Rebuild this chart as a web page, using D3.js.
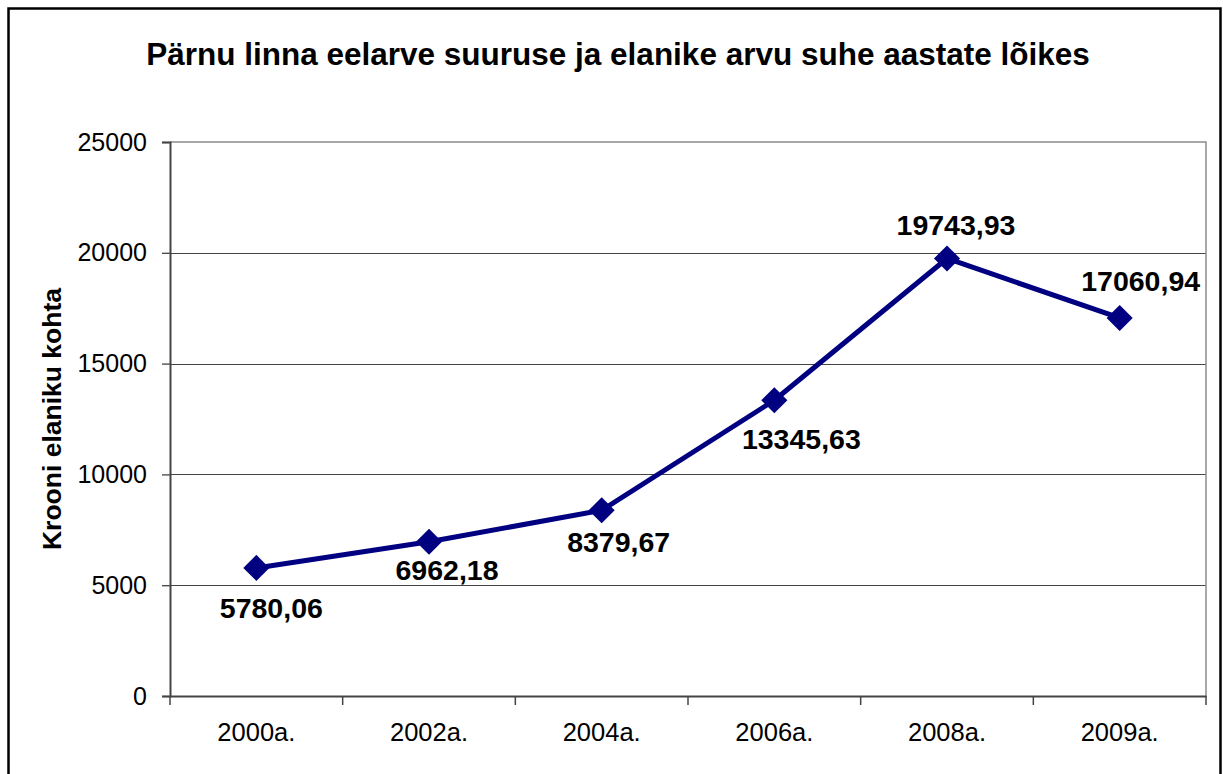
<!DOCTYPE html>
<html>
<head>
<meta charset="utf-8">
<script src="https://cdn.jsdelivr.net/npm/d3@7"></script>
<style>
  body { margin: 0; background: #fff; }
  text { font-family: 'Liberation Sans', Arial, sans-serif; }
</style>
</head>
<body>
<script>
var years = ['2000a.', '2002a.', '2004a.', '2006a.', '2008a.', '2009a.'];
var values = [5780.06, 6962.18, 8379.67, 13345.63, 19743.93, 17060.94];
var yTicks = [0, 5000, 10000, 15000, 20000, 25000];

// label nudges relative to each marker (dx, dy of baseline)
var labelDx = [15, 18, 17, 27, 9, 21];
var labelDy = [50, 38, 42, 49, -23, -27];

var W = 1223, H = 774;
var plot = {left: 170, right: 1206, top: 142, bottom: 696};
var navy = '#000080';

var svg = d3.select('body')
        .append('svg')
        .attr('width', W)
        .attr('height', H);

// outer frame
svg.append('rect')
        .attr('x', 8.5)
        .attr('y', 8.5)
        .attr('width', 1212)
        .attr('height', 800)
        .attr('fill', 'white')
        .attr('stroke', '#000')
        .attr('stroke-width', 2.5);

var x = d3.scaleBand()
        .domain(years)
        .range([plot.left, plot.right]);

var y = d3.scaleLinear()
        .domain([0, 25000])
        .range([plot.bottom, plot.top]);

// title
svg.append('text')
        .attr('x', 618)
        .attr('y', 65)
        .attr('text-anchor', 'middle')
        .style('font-size', '31.5px')
        .style('font-weight', 'bold')
        .text('Pärnu linna eelarve suuruse ja elanike arvu suhe aastate lõikes');

// gridlines
svg.append('g')
        .selectAll('line')
        .data(yTicks.slice(1, -1))
        .enter()
        .append('line')
        .attr('x1', plot.left)
        .attr('x2', plot.right)
        .attr('y1', function(d) { return Math.round(y(d)) + 0.5; })
        .attr('y2', function(d) { return Math.round(y(d)) + 0.5; })
        .attr('stroke', '#444')
        .attr('stroke-width', 1);

// plot area border top/right (gray)
svg.append('path')
        .attr('d', 'M' + plot.left + ',' + plot.top + 'H' + plot.right + 'V' + plot.bottom)
        .attr('fill', 'none')
        .attr('stroke', '#8c8c8c')
        .attr('stroke-width', 1.5);

// y axis
var yAxis = svg.append('g')
        .attr('transform', 'translate(' + plot.left + ',0)')
        .call(d3.axisLeft(y).tickValues(yTicks).tickSize(8).tickPadding(15).tickFormat(d3.format('d')));
yAxis.select('.domain').attr('stroke', '#444').attr('stroke-width', 2);
yAxis.selectAll('.tick line').attr('stroke', '#444').attr('stroke-width', 1.3);
yAxis.selectAll('.tick text')
        .attr('fill', '#000')
        .style('font-family', "'Liberation Sans', Arial, sans-serif")
        .style('font-size', '25px');

// x axis
var xAxis = svg.append('g')
        .attr('transform', 'translate(0,' + plot.bottom + ')')
        .call(d3.axisBottom(x).tickSize(0).tickPadding(27));
xAxis.select('.domain').attr('stroke', '#444').attr('stroke-width', 2);
xAxis.selectAll('.tick text')
        .attr('fill', '#000')
        .style('font-family', "'Liberation Sans', Arial, sans-serif")
        .style('font-size', '25.5px');

// category boundary ticks
var bounds = years.map(function(d) { return x(d); }).concat([x(years[years.length - 1]) + x.bandwidth()]);
svg.append('g')
        .selectAll('line')
        .data(bounds)
        .enter()
        .append('line')
        .attr('x1', function(d) { return d; })
        .attr('x2', function(d) { return d; })
        .attr('y1', plot.bottom)
        .attr('y2', plot.bottom + 9)
        .attr('stroke', '#444')
        .attr('stroke-width', 1.5);

// y axis title
svg.append('text')
        .attr('transform', 'translate(61,' + ((plot.top + plot.bottom) / 2) + ') rotate(-90)')
        .attr('text-anchor', 'middle')
        .style('font-size', '26.5px')
        .style('font-weight', 'bold')
        .text('Krooni elaniku kohta');

// line
var cx = function(d, i) { return x(years[i]) + x.bandwidth() / 2; };
var line = d3.line()
        .x(cx)
        .y(function(d) { return y(d); });

svg.append('path')
        .datum(values)
        .attr('d', line)
        .attr('fill', 'none')
        .attr('stroke', navy)
        .attr('stroke-width', 5)
        .attr('stroke-linejoin', 'round');

// diamond markers
svg.append('g')
        .selectAll('path')
        .data(values)
        .enter()
        .append('path')
        .attr('d', d3.symbol().type(d3.symbolSquare).size(340))
        .attr('transform', function(d, i) { return 'translate(' + cx(d, i) + ',' + y(d) + ') rotate(45)'; })
        .attr('fill', navy);

// data labels
var fmt = function(v) { return v.toFixed(2).replace('.', ','); };
svg.append('g')
        .selectAll('text')
        .data(values)
        .enter()
        .append('text')
        .attr('x', function(d, i) { return cx(d, i) + labelDx[i]; })
        .attr('y', function(d, i) { return y(d) + labelDy[i]; })
        .attr('text-anchor', 'middle')
        .style('font-size', '28.5px')
        .style('font-weight', 'bold')
        .text(fmt);
</script>
</body>
</html>
